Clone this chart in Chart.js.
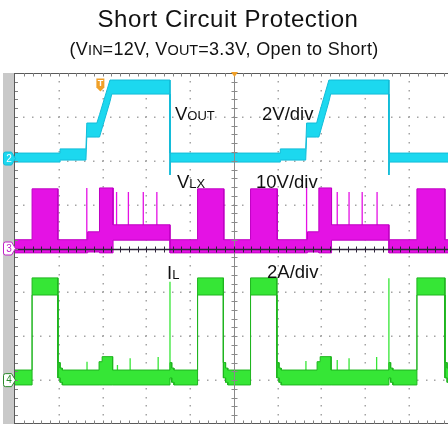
<!DOCTYPE html>
<html><head><meta charset="utf-8">
<script src="https://cdn.jsdelivr.net/npm/chart.js@4/dist/chart.umd.min.js"></script>
<style>
html,body{margin:0;padding:0;background:#fff;}
#wrap{position:relative;width:448px;height:424px;overflow:hidden;font-family:"Liberation Sans",Arial,sans-serif;color:#111;}
#c{position:absolute;left:0;top:0;}
.t1{position:absolute;left:4px;top:6.7px;width:448px;text-align:center;font-size:24px;line-height:24px;letter-spacing:0.6px;white-space:nowrap;}
.t2{position:absolute;left:0;top:39.8px;width:448px;text-align:center;font-size:18px;line-height:18px;letter-spacing:0.3px;white-space:nowrap;}
.t2 small{font-size:14.5px;letter-spacing:0;}
</style></head>
<body><div id="wrap">
<canvas id="c" width="448" height="424"></canvas>
<div class="t1">Short Circuit Protection</div>
<div class="t2">(V<small>IN</small>=12V, V<small>OUT</small>=3.3V, Open to Short)</div>
</div>
<script>
// Time is in graticule divisions (10 across the screen, 9.89 visible).
// Each trace is kept as the upper / lower edge of its noise band, in volts or amps.

// VOUT, channel 2, 2 V/div
const voutTime = [0, 1.03, 1.03, 1.62, 1.64, 1.87, 1.93, 2.17, 2.21, 3.54, 3.54, 3.55,
                  6.06, 6.06, 6.64, 6.66, 6.89, 6.94, 7.17, 7.21, 8.54, 8.54, 8.55, 9.89];
const voutHigh = [0.25, 0.25, 0.44, 0.44, 1.62, 1.62, 2.0, 3.58, 3.58, 3.58, 0.25, 0.25,
                  0.25, 0.44, 0.44, 1.62, 1.62, 2.0, 3.58, 3.58, 3.58, 0.25, 0.25, 0.25];
const voutLow  = [-0.16, -0.16, -0.07, -0.07, 0.98, 0.98, 0.98, 2.6, 2.94, 2.94, -0.75, -0.16,
                  -0.16, -0.07, -0.07, 0.98, 0.98, 0.98, 2.6, 2.94, 2.94, -0.75, -0.16, -0.16];

// VLX, channel 3, 10 V/div: piecewise levels between edges
const vlxEdges = [0, 0.39, 0.98, 1.66, 1.93, 2.24, 3.54, 4.17, 4.77, 5.38, 5.99, 6.68, 6.94, 7.23, 8.54, 9.18, 9.82, 9.89];
const vlxHigh  = [2.0, 13.6, 2.0, 3.8, 13.8, 5.4, 2.0, 13.6, 2.0, 13.6, 2.0, 3.8, 13.8, 5.4, 2.0, 13.6, 2.0];
const vlxLow   = [-1.0, -1.0, -1.0, -0.8, -1.0, 1.9, -1.0, -1.0, -1.0, -1.0, -1.0, -0.8, -1.0, 1.9, -1.0, -1.0, -1.0];
const vlxSpikeTime = [1.64, 2.32, 2.59, 2.93, 3.24, 6.66, 7.36, 7.63, 7.93, 8.27];
const vlxSpikePeak = [13.8, 12.9, 12.9, 12.9, 12.9, 14.0, 12.9, 12.9, 12.9, 12.9];

// IL, channel 4, 2 A/div
const ilEdges = [0, 0.39, 0.98, 1.03, 1.08, 1.92, 1.99, 2.23, 3.54, 3.58, 3.63, 4.17, 4.76, 4.81, 4.86,
                 5.38, 5.98, 6.03, 6.08, 6.90, 6.97, 7.22, 8.54, 8.58, 8.63, 9.18, 9.82, 9.87, 9.89];
const ilHigh  = [0.46, 4.66, 0.8, 0.55, 0.46, 0.84, 1.07, 0.46, 0.8, 0.55, 0.46, 4.66, 0.8, 0.55,
                 0.46, 4.66, 0.8, 0.55, 0.46, 0.84, 1.07, 0.46, 0.8, 0.55, 0.46, 4.66, 0.8, 0.55];
const ilLow   = [-0.22, 3.88, 0.1, -0.1, -0.22, -0.22, -0.22, -0.22, 0.1, -0.1, -0.22, 3.88, 0.1, -0.1,
                 -0.22, 3.88, 0.1, -0.1, -0.22, -0.22, -0.22, -0.22, 0.1, -0.1, -0.22, 3.88, 0.1, -0.1];
const ilSpikeTime = [1.645, 2.34, 2.63, 3.27, 3.54, 6.645, 7.36, 7.63, 8.26, 8.54];
const ilSpikePeak = [0.84, 0.69, 1.0, 1.05, 4.49, 0.87, 0.92, 1.0, 1.05, 4.64];

// Vertical settings: ground position (divisions from the bottom) and units per division
const CH = {
  vout: {zero: 6.05, perDiv: 2},
  vlx:  {zero: 4.0,  perDiv: 10},
  il:   {zero: 1.0,  perDiv: 2}
};
const toDiv = (ch, v) => ch.zero + v / ch.perDiv;

function pointsFrom(t, vals, ch) {
  return t.map((x, i) => ({x: x, y: toDiv(ch, vals[i])}));
}
function stepPoints(edges, vals, ch) {
  const pts = [];
  vals.forEach((v, i) => {
    pts.push({x: edges[i], y: toDiv(ch, v)});
    pts.push({x: edges[i + 1], y: toDiv(ch, v)});
  });
  return pts;
}
function spikePoints(t, peaks, base, ch) {
  const pts = [];
  t.forEach((x, i) => {
    pts.push({x: x, y: toDiv(ch, base)}, {x: x, y: toDiv(ch, peaks[i])}, {x: x, y: null});
  });
  return pts;
}
function band(lo, hi, fillColor, edgeColor) {
  return [
    {data: lo, borderColor: edgeColor, borderWidth: 1, backgroundColor: fillColor, fill: false, pointRadius: 0},
    {data: hi, borderColor: edgeColor, borderWidth: 1, backgroundColor: fillColor, fill: '-1', pointRadius: 0}
  ];
}

const CYAN = '#1cd8ef', CYAN_EDGE = '#12bcd8';
const MAG = '#e412e4', MAG_EDGE = '#c000c4';
const GRN = '#36e636', GRN_EDGE = '#1fb51f';

const datasets = [
  ...band(pointsFrom(voutTime, voutLow, CH.vout), pointsFrom(voutTime, voutHigh, CH.vout), CYAN, CYAN_EDGE),
  ...band(stepPoints(vlxEdges, vlxLow, CH.vlx), stepPoints(vlxEdges, vlxHigh, CH.vlx), MAG, MAG_EDGE),
  {data: spikePoints(vlxSpikeTime, vlxSpikePeak, 2.0, CH.vlx), borderColor: MAG, borderWidth: 1.3, fill: false, pointRadius: 0, spanGaps: false},
  ...band(stepPoints(ilEdges, ilLow, CH.il), stepPoints(ilEdges, ilHigh, CH.il), GRN, GRN_EDGE),
  {data: spikePoints(ilSpikeTime, ilSpikePeak, 0, CH.il), borderColor: GRN, borderWidth: 1.3, fill: false, pointRadius: 0, spanGaps: false}
];

// Scope graticule, channel markers and in-screen labels
const scopeScreen = {
  id: 'scopeScreen',
  beforeDatasetsDraw(chart) {
    const {ctx, chartArea: a, scales: {x, y}} = chart;
    ctx.save();
    ctx.fillStyle = '#c9c9c9';
    ctx.fillRect(3, a.top, 11, a.bottom - a.top);
    ctx.fillStyle = '#a4a4a4';
    for (let i = 1; i <= 9; i++) {
      if (i === 5) continue;
      const px = Math.round(x.getPixelForValue(i));
      for (let j = 1; j < 40; j++) {
        const py = Math.round(y.getPixelForValue(j * 0.2));
        ctx.fillRect(px - 0.5, py - 1, 1.5, 1.5);
      }
    }
    for (let j = 1; j <= 7; j++) {
      if (j === 4) continue;
      const py = Math.round(y.getPixelForValue(j));
      for (let i = 1; i < 50; i++) {
        const px = Math.round(x.getPixelForValue(i * 0.2));
        ctx.fillRect(px - 1, py - 0.5, 1.5, 1.5);
      }
    }
    ctx.restore();
  },
  afterDatasetsDraw(chart) {
    const {ctx, chartArea: a, scales: {x, y}} = chart;
    ctx.save();
    // centre cross
    const cx = Math.round(x.getPixelForValue(5)) + 0.5;
    const cy = Math.round(y.getPixelForValue(4)) + 0.5;
    ctx.strokeStyle = '#8a8a8a';
    ctx.lineWidth = 1;
    ctx.beginPath();
    ctx.moveTo(cx, a.top); ctx.lineTo(cx, a.bottom);
    for (let j = 1; j < 40; j++) {
      const py = Math.round(y.getPixelForValue(j * 0.2)) + 0.5;
      ctx.moveTo(cx - 3, py); ctx.lineTo(cx + 3, py);
    }
    ctx.stroke();
    ctx.strokeStyle = '#2c2438';
    ctx.lineWidth = 1.6;
    ctx.beginPath();
    ctx.moveTo(a.left, cy); ctx.lineTo(a.right, cy);
    ctx.stroke();
    ctx.lineWidth = 1;
    ctx.beginPath();
    for (let i = 1; i < 50; i++) {
      const px = Math.round(x.getPixelForValue(i * 0.2)) + 0.5;
      ctx.moveTo(px, cy - 3); ctx.lineTo(px, cy + 3);
    }
    ctx.stroke();
    // frame with minor ticks
    ctx.strokeStyle = '#5a5a5a';
    ctx.beginPath();
    ctx.moveTo(a.left - 0.5, a.top + 0.5); ctx.lineTo(a.right, a.top + 0.5);
    ctx.moveTo(a.left - 0.5, a.top); ctx.lineTo(a.left - 0.5, a.bottom);
    ctx.moveTo(a.left - 0.5, a.bottom - 0.5); ctx.lineTo(a.right, a.bottom - 0.5);
    ctx.stroke();
    ctx.strokeStyle = '#808080';
    ctx.beginPath();
    for (let i = 1; i < 50; i++) {
      const px = Math.round(x.getPixelForValue(i * 0.2)) + 0.5;
      ctx.moveTo(px, a.top); ctx.lineTo(px, a.top + 3.5);
      ctx.moveTo(px, a.bottom); ctx.lineTo(px, a.bottom - 3.5);
    }
    for (let j = 1; j < 40; j++) {
      const py = Math.round(y.getPixelForValue(j * 0.2)) + 0.5;
      ctx.moveTo(a.left, py); ctx.lineTo(a.left + 3, py);
    }
    ctx.stroke();

    // trigger position on top edge
    ctx.fillStyle = '#f0a028';
    ctx.beginPath();
    ctx.moveTo(cx - 3.5, a.top - 1); ctx.lineTo(cx + 3.5, a.top - 1); ctx.lineTo(cx, a.top + 4);
    ctx.closePath(); ctx.fill();

    // trigger level marker
    const tx = x.getPixelForValue(1.95), ty = y.getPixelForValue(7.74);
    ctx.beginPath();
    ctx.moveTo(tx - 4, ty - 6);
    ctx.lineTo(tx + 4, ty - 6);
    ctx.lineTo(tx + 4, ty + 3);
    ctx.lineTo(tx, ty + 7);
    ctx.lineTo(tx - 4, ty + 3);
    ctx.closePath();
    ctx.fill();
    ctx.fillStyle = '#ffffff';
    ctx.font = 'bold 9px "Liberation Sans", Arial, sans-serif';
    ctx.textAlign = 'center'; ctx.textBaseline = 'middle';
    ctx.fillText('T', tx, ty - 1);

    // channel ground markers
    function marker(v, fill, stroke, txt, text) {
      const py = y.getPixelForValue(v);
      const t = py - 6.5, b = py + 6.5;
      ctx.beginPath();
      ctx.moveTo(5.5, t); ctx.lineTo(11.5, t); ctx.lineTo(15.5, py); ctx.lineTo(11.5, b); ctx.lineTo(5.5, b);
      ctx.quadraticCurveTo(3.5, b, 3.5, b - 2); ctx.lineTo(3.5, t + 2); ctx.quadraticCurveTo(3.5, t, 5.5, t);
      ctx.closePath();
      ctx.fillStyle = fill; ctx.fill();
      ctx.strokeStyle = stroke; ctx.lineWidth = 1; ctx.stroke();
      ctx.fillStyle = txt;
      ctx.font = '10px "Liberation Sans", Arial, sans-serif';
      ctx.textAlign = 'center'; ctx.textBaseline = 'middle';
      ctx.fillText(text, 9, py + 0.5);
    }
    marker(CH.vout.zero, CYAN, CYAN_EDGE, '#ffffff', '2');
    marker(CH.vlx.zero, '#ffffff', '#c020c8', '#c020c8', '3');
    marker(CH.il.zero, '#ffffff', '#2a8a2a', '#2a8a2a', '4');

    // in-screen labels
    ctx.fillStyle = '#111111';
    ctx.textAlign = 'left'; ctx.textBaseline = 'alphabetic';
    const big = '18.5px "Liberation Sans", Arial, sans-serif';
    const small = '13px "Liberation Sans", Arial, sans-serif';
    function sublabel(px, py, main, sub) {
      ctx.font = big; ctx.fillText(main, px, py);
      const w = ctx.measureText(main).width;
      ctx.font = small; ctx.fillText(sub, px + w, py);
    }
    sublabel(175, 119.5, 'V', 'OUT');
    sublabel(177, 188, 'V', 'LX');
    sublabel(167, 279, 'I', 'L');
    ctx.font = big;
    ctx.fillText('2V/div', 262, 119.5);
    ctx.fillText('10V/div', 256, 188);
    ctx.fillText('2A/div', 267, 278);
    ctx.restore();
  }
};

new Chart(document.getElementById('c'), {
  type: 'line',
  data: {datasets: datasets},
  options: {
    responsive: false,
    animation: false,
    devicePixelRatio: 1,
    events: [],
    layout: {padding: {left: 15, top: 73, right: 0, bottom: 0}},
    scales: {
      x: {type: 'linear', min: 0, max: 9.89, display: false},
      y: {type: 'linear', min: 0, max: 8, display: false}
    },
    elements: {point: {radius: 0}, line: {tension: 0}},
    plugins: {legend: {display: false}, tooltip: {enabled: false}, title: {display: false}}
  },
  plugins: [scopeScreen]
});
</script></body></html>
